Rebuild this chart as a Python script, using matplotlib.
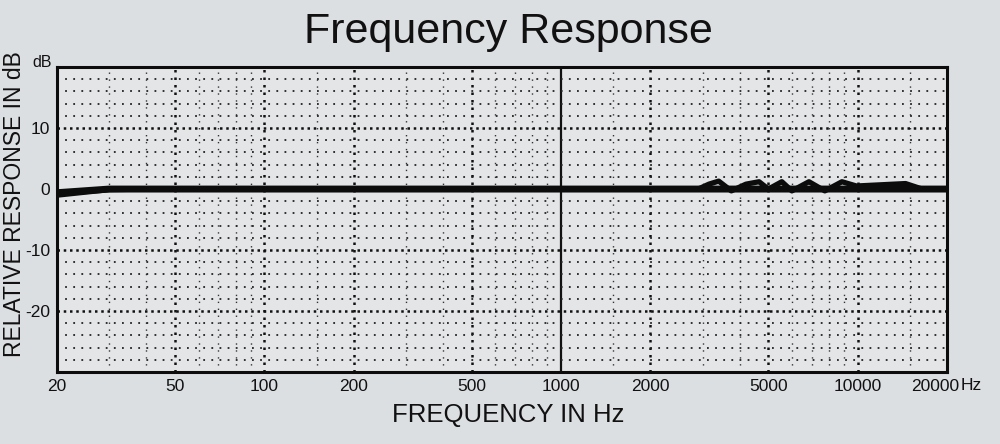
import numpy as np
import matplotlib.pyplot as plt
from matplotlib.transforms import ScaledTranslation

plt.rcParams['font.family'] = ['Liberation Sans', 'DejaVu Sans']

# response curve (Hz, dB)
freq = [20, 25, 30, 40, 100, 1000, 2000, 2900, 3150, 3400, 3750, 4200, 4650,
        5000, 5550, 6000, 6850, 7750, 8850, 9900, 12000, 14500, 16500, 18000,
        20000]
level = [-1.0, -0.5, -0.1, 0, 0, 0, 0, 0, 0.8, 1.3, -0.3, 0.8, 1.2,
         0, 1.2, -0.3, 1.2, -0.3, 1.2, 0.5, 0.7, 0.9, 0, 0, 0]
flat_freq = [20, 30, 20000]
flat_level = [-0.6, 0, 0]

xticks = [20, 50, 100, 200, 500, 1000, 2000, 5000, 10000, 20000]
xlabels = ['20', '50', '100', '200', '500', '1000', '2000', '5000', '10000', '20000']
yticks = [10, 0, -10, -20]
ylabels = ['10', '0', '-10', '-20']
minor_x = [30, 40, 60, 70, 80, 90, 150, 300, 400, 600, 700, 800, 900, 1500,
           3000, 4000, 6000, 7000, 8000, 9000, 15000]
major_x = [50, 100, 200, 500, 2000, 5000, 10000]
minor_y = [18, 16, 14, 12, 8, 6, 4, 2, -2, -4, -6, -8, -12, -14, -16, -18,
           -22, -24, -26, -28]
major_y = [10, -10, -20]

fig = plt.figure(figsize=(10, 4.44), dpi=100)
fig.patch.set_facecolor('#dcdfe2')
ax = fig.add_axes([0.057, 0.162, 0.89, 0.687])
ax.set_facecolor('#e3e5e7')
ax.set_xscale('log')
ax.set_xlim(20, 20000)
ax.set_ylim(-30, 20)

# grid
for f in minor_x:
    ax.axvline(f, color='#333333', lw=1.0, ls=(0, (1, 4)), zorder=1)
for f in major_x:
    ax.axvline(f, color='#111111', lw=1.8, ls=(0, (1, 2)), zorder=1)
ax.axvline(1000, color='#111111', lw=1.6, zorder=1)
for v in minor_y:
    ax.axhline(v, color='#222222', lw=1.3, ls=(0, (1, 3.5)), zorder=1)
for v in major_y:
    ax.axhline(v, color='#111111', lw=1.8, ls=(0, (1, 1.5)), zorder=1)

ax.plot(flat_freq, flat_level, color='#0c0c0c', lw=5, zorder=3,
        solid_capstyle='butt')
ax.plot(freq, level, color='#0c0c0c', lw=3.8, zorder=3,
        solid_joinstyle='round', solid_capstyle='butt')

ax.set_xticks(xticks)
ax.set_xticklabels(xlabels)
ax.xaxis.set_minor_locator(plt.NullLocator())
ax.set_yticks(yticks)
ax.set_yticklabels(ylabels)
ax.tick_params(length=0, labelsize=12.5, pad=5, colors='#111111')
last = ax.get_xticklabels()[-1]
last.set_transform(last.get_transform() + ScaledTranslation(-0.12, 0, fig.dpi_scale_trans))
for s in ax.spines.values():
    s.set_linewidth(2.2)
    s.set_color('#0c0c0c')

fig.text(0.508, 0.903, 'Frequency Response', ha='center', va='baseline',
         fontsize=31, color='#111111')
fig.text(0.508, 0.065, 'FREQUENCY IN Hz', ha='center', va='center',
         fontsize=18.5, color='#111111')
fig.text(0.015, 0.54, 'RELATIVE RESPONSE IN dB', ha='center', va='center',
         rotation=90, fontsize=16.5, color='#111111')
fig.text(0.042, 0.860, 'dB', ha='center', va='center', fontsize=11.5,
         color='#111111')
fig.text(0.961, 0.132, 'Hz', ha='left', va='center', fontsize=12.5,
         color='#111111')

fig.savefig('out.png', dpi=100, facecolor=fig.get_facecolor())
